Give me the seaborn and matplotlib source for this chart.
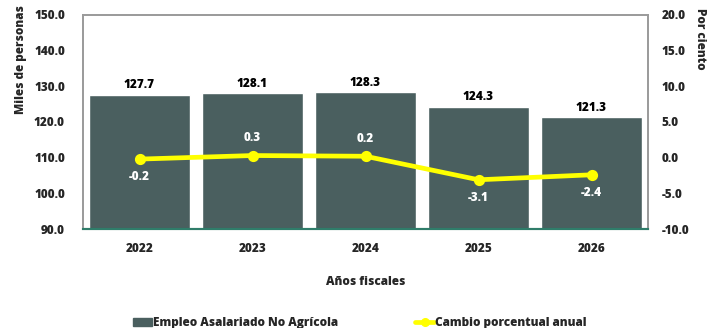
import matplotlib
matplotlib.use("Agg")
import matplotlib.pyplot as plt
import seaborn as sns
import pandas as pd
from matplotlib.patches import Patch
from matplotlib.lines import Line2D

# Fiscal years and series
years = ["2022", "2023", "2024", "2025", "2026"]
empleo = [127.7, 128.1, 128.3, 124.3, 121.3]          # miles de personas
cambio = [-0.2, 0.3, 0.2, -3.1, -2.4]                 # por ciento
left_ticks = [90.0, 100.0, 110.0, 120.0, 130.0, 140.0, 150.0]
right_ticks = [-10.0, -5.0, 0.0, 5.0, 10.0, 15.0, 20.0]

bar_color = "#4a5f5f"
line_color = "#ffff00"
W = 800  # extra-bold text

sns.set_theme(style="white")
plt.rcParams["font.family"] = ["Open Sans", "DejaVu Sans"]
plt.rcParams["font.weight"] = W

df = pd.DataFrame({"year": years, "empleo": empleo, "cambio": cambio})

fig = plt.figure(figsize=(7.2, 3.28), dpi=100)
ax = fig.add_axes([0.1153, 0.3018, 0.7847, 0.6525])

sns.barplot(data=df, x="year", y="empleo", color=bar_color, width=0.9,
            saturation=1, ax=ax, order=years)
ax.set_ylim(90, 150)
ax.set_yticks(left_ticks)
ax.set_yticklabels([f"{v:.1f}" for v in left_ticks], fontsize=8.5, fontweight=W)
ax.set_xticks(range(len(years)))
ax.set_xticklabels(years, fontsize=8.5, fontweight=W)
ax.set_xlim(-0.5, len(years) - 0.5)
ax.tick_params(axis="both", length=0)
ax.tick_params(axis="y", pad=13)
ax.tick_params(axis="x", pad=10)
ax.set_xlabel("Años fiscales", fontsize=8.5, fontweight=W, labelpad=15)
ax.set_ylabel("Miles de personas", fontsize=8.5, fontweight=W)
ax.yaxis.set_label_coords(-0.1, 0.79)

for p, v in zip(ax.patches, empleo):
    ax.annotate(f"{v:.1f}", (p.get_x() + p.get_width() / 2, p.get_height()),
                xytext=(0, 2.5), textcoords="offset points", ha="center",
                va="bottom", fontsize=8.5, fontweight=W, color="black")

ax2 = ax.twinx()
sns.pointplot(data=df, x="year", y="cambio", color=line_color, order=years,
              markers="o", markersize=5.5, linewidth=3.4, ax=ax2)
ax2.set_ylim(-10, 20)
ax2.set_yticks(right_ticks)
ax2.set_yticklabels([f"{v:.1f}" for v in right_ticks], fontsize=8.5, fontweight=W)
ax2.tick_params(axis="y", length=0, pad=10)
ax2.set_ylabel("Por ciento", fontsize=8.5, fontweight=W, rotation=-90)
ax2.yaxis.set_label_coords(1.103, 0.888)
ax2.set_xlabel("")

for i, v in enumerate(cambio):
    above = v > 0
    ax2.annotate(f"{v:.1f}", (i, v), xytext=(0, 12.5 if above else -13),
                 textcoords="offset points", ha="center", va="center",
                 fontsize=8.5, fontweight=W, color="white")

for a in (ax, ax2):
    for side in ("top", "left", "right"):
        a.spines[side].set_color("#9a9a9a")
        a.spines[side].set_linewidth(1.2)
    a.spines["bottom"].set_color("#2f7d6a")
    a.spines["bottom"].set_linewidth(1.5)

handles = [
    Patch(facecolor=bar_color, edgecolor=bar_color, label="Empleo Asalariado No Agrícola"),
    Line2D([0], [0], color=line_color, lw=3.4, marker="o", markersize=5.5,
           label="Cambio porcentual anual"),
]
fig.legend(handles=handles, loc="center", bbox_to_anchor=(0.5, 0.015), ncol=2,
           frameon=False, prop={"size": 8.5, "weight": W},
           handlelength=1.6, handletextpad=0.1, columnspacing=6.5)

fig.savefig("out.png", dpi=100)
